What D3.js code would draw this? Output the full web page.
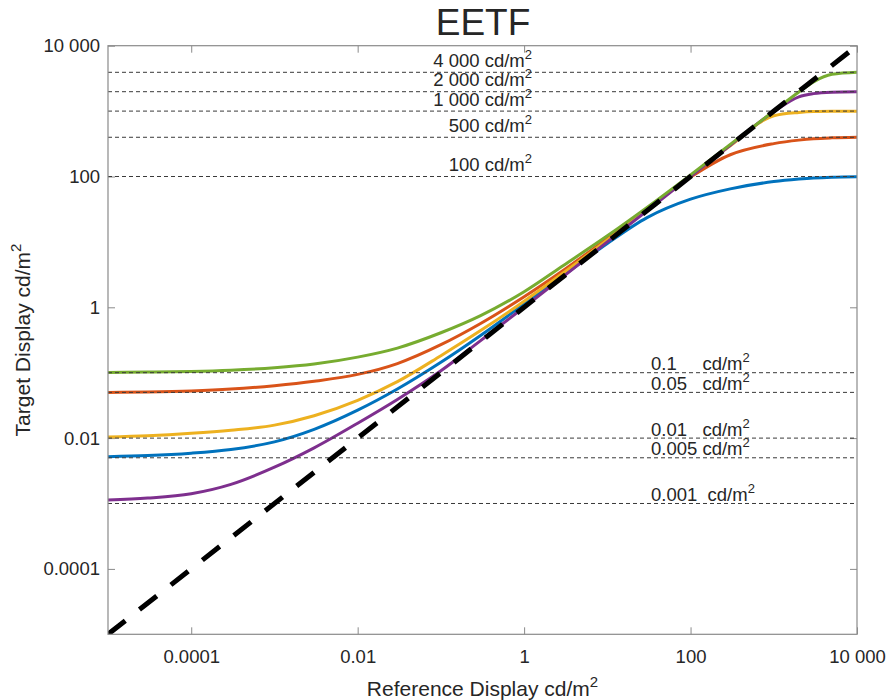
<!DOCTYPE html>
<html>
<head>
<meta charset="utf-8">
<script src="https://cdn.jsdelivr.net/npm/d3@7"></script>
<style>
  body { margin: 0; background: #fff; }
  text { font-family: "Liberation Sans", Arial, sans-serif; fill: #262626; }
</style>
</head>
<body>
<div id="chart"></div>
<script>
// reference display luminance (x samples)
var refX = [1e-5, 3e-5, 1e-4, 3e-4, 1e-3, 3e-3, 1e-2, 3e-2, 0.1, 0.3, 1, 3, 10, 30, 100, 300, 1000, 2000, 3000, 5000, 10000];

// target display luminance per curve
var blueY   = [0.0052, 0.00541, 0.00589, 0.00671, 0.00875, 0.0136, 0.0267, 0.0562, 0.144, 0.37, 1.12, 3.1, 9.46, 23.5, 45, 64.7, 83.6, 91.2, 94.8, 97.7, 99.5];
var orangeY = [0.0500, 0.0508, 0.0527, 0.0562, 0.0634, 0.0740, 0.0942, 0.138, 0.268, 0.566, 1.45, 3.72, 11.3, 32, 98, 215, 318, 360, 378, 390, 398];
var yellowY = [0.0104, 0.01086, 0.01183, 0.0132, 0.0158, 0.022, 0.0378, 0.0729, 0.182, 0.44, 1.24, 3.4, 10.7, 31, 101.6, 295, 850, 955, 985, 995, 998];
var purpleY = [0.00113, 0.00121, 0.00141, 0.00196, 0.00359, 0.0071, 0.0169, 0.039, 0.107, 0.309, 1.0, 3.0, 10, 30, 100, 300, 980, 1650, 1850, 1950, 1985];
var greenY  = [0.101, 0.1023, 0.1047, 0.1094, 0.1191, 0.1358, 0.173, 0.238, 0.408, 0.746, 1.73, 4.41, 12.4, 33.7, 106, 310, 1000, 1960, 2800, 3650, 3920];

var curveColors = ["#0072BD", "#D95319", "#EDB120", "#7E2F8E", "#77AC30"];

// reference levels (dotted lines) and their labels
var topLevels = [3920, 1980, 1000, 398, 100];
var topLabels = ["4 000", "2 000", "1 000", "500", "100"];
var lowLevels = [0.1, 0.05, 0.01, 0.005, 0.001];
var lowLabels = ["0.1     ", "0.05   ", "0.01   ", "0.005 ", "0.001  "];

var axisTicks = [1e-4, 1e-2, 1, 100, 1e4];
var diagonal = [1e-5, 1e4];

var svgWidth = 888;
var svgHeight = 700;
var margin = { top: 45.7, right: 31, bottom: 65.7, left: 108 };
var width = svgWidth - margin.left - margin.right;
var height = svgHeight - margin.top - margin.bottom;

var svg = d3.select("#chart")
  .append("svg")
  .attr("width", svgWidth)
  .attr("height", svgHeight);

var chartGroup = svg.append("g")
  .attr("transform", `translate(${margin.left}, ${margin.top})`);

var x = d3.scaleLog().domain([1e-5, 1e4]).range([0, width]);
var y = d3.scaleLog().domain([1e-5, 1e4]).range([height, 0]);

var locale = d3.formatLocale({ decimal: ".", thousands: " ", grouping: [3], currency: ["", ""] });
var fmt = locale.format(",");

svg.append("defs").append("clipPath").attr("id", "plotClip")
  .append("rect").attr("width", width).attr("height", height);

// axes with inward ticks on all four sides
var bottomAxis = d3.axisBottom(x).tickValues(axisTicks).tickSizeInner(-7).tickSizeOuter(0).tickPadding(16).tickFormat(fmt);
var leftAxis = d3.axisLeft(y).tickValues(axisTicks).tickSizeInner(-7).tickSizeOuter(0).tickPadding(8).tickFormat(fmt);
var topAxis = d3.axisTop(x).tickValues(axisTicks).tickSizeInner(-7).tickSizeOuter(0).tickFormat("");
var rightAxis = d3.axisRight(y).tickValues(axisTicks).tickSizeInner(-7).tickSizeOuter(0).tickFormat("");

var gB = chartGroup.append("g").attr("transform", `translate(0, ${height})`).call(bottomAxis);
var gL = chartGroup.append("g").call(leftAxis);
var gT = chartGroup.append("g").call(topAxis);
var gR = chartGroup.append("g").attr("transform", `translate(${width}, 0)`).call(rightAxis);

[gB, gL, gT, gR].forEach(function(g) {
  g.select(".domain").remove();
  g.selectAll("line").attr("stroke", "#8a8a8a").attr("stroke-width", 1);
  g.selectAll("text").style("font-size", "18.5px").attr("fill", "#262626");
});

var plot = chartGroup.append("g").attr("clip-path", "url(#plotClip)");

var line = d3.line()
  .x(d => x(d[0]))
  .y(d => y(d[1]))
  .curve(d3.curveMonotoneX);

var allY = [blueY, orangeY, yellowY, purpleY, greenY];
allY.forEach(function(vals, i) {
  plot.append("path")
    .datum(refX.map((v, j) => [v, vals[j]]))
    .attr("fill", "none")
    .attr("stroke", curveColors[i])
    .attr("stroke-width", 3)
    .attr("d", line);
});

// dotted reference levels
plot.selectAll(".level")
  .data(topLevels.concat(lowLevels))
  .enter().append("line")
  .attr("x1", 0).attr("x2", width)
  .attr("y1", d => y(d)).attr("y2", d => y(d))
  .attr("stroke", "#3a3a3a")
  .attr("stroke-width", 1)
  .attr("stroke-dasharray", "4,3");

// y = x
plot.append("path")
  .datum(diagonal.map(v => [v, v]))
  .attr("fill", "none")
  .attr("stroke", "#000")
  .attr("stroke-width", 5)
  .attr("stroke-dasharray", "22,18")
  .attr("d", d3.line().x(d => x(d[0])).y(d => y(d[1])));

// frame
chartGroup.append("rect")
  .attr("width", width).attr("height", height)
  .attr("fill", "none").attr("stroke", "#8a8a8a").attr("stroke-width", 1.2);

// level labels
function addUnit(t) {
  t.append("tspan").text("cd/m");
  t.append("tspan").attr("dy", -8).style("font-size", "13px").text("2");
}

topLevels.forEach(function(v, i) {
  var t = chartGroup.append("text")
    .attr("x", 532 - margin.left)
    .attr("y", y(v) - 5.5)
    .attr("text-anchor", "end")
    .style("font-size", "18.5px")
    .style("white-space", "pre")
    .text(topLabels[i] + " ");
  addUnit(t);
});

lowLevels.forEach(function(v, i) {
  var t = chartGroup.append("text")
    .attr("x", 651 - margin.left)
    .attr("y", y(v) - 2.5)
    .style("font-size", "18.5px")
    .style("white-space", "pre")
    .text(lowLabels[i]);
  addUnit(t);
});

// title and axis labels
svg.append("text")
  .attr("x", 483).attr("y", 35)
  .attr("text-anchor", "middle")
  .style("font-size", "37px")
  .attr("fill", "#000")
  .text("EETF");

var xLab = svg.append("text")
  .attr("x", margin.left + width / 2).attr("y", 696)
  .attr("text-anchor", "middle")
  .style("font-size", "21px")
  .text("Reference Display ");
xLab.append("tspan").text("cd/m");
xLab.append("tspan").attr("dy", -9).style("font-size", "15px").text("2");

var yLab = svg.append("text")
  .attr("transform", `translate(30, ${margin.top + height / 2}) rotate(-90)`)
  .attr("text-anchor", "middle")
  .style("font-size", "21px")
  .text("Target Display ");
yLab.append("tspan").text("cd/m");
yLab.append("tspan").attr("dy", -9).style("font-size", "15px").text("2");
</script>
</body>
</html>
